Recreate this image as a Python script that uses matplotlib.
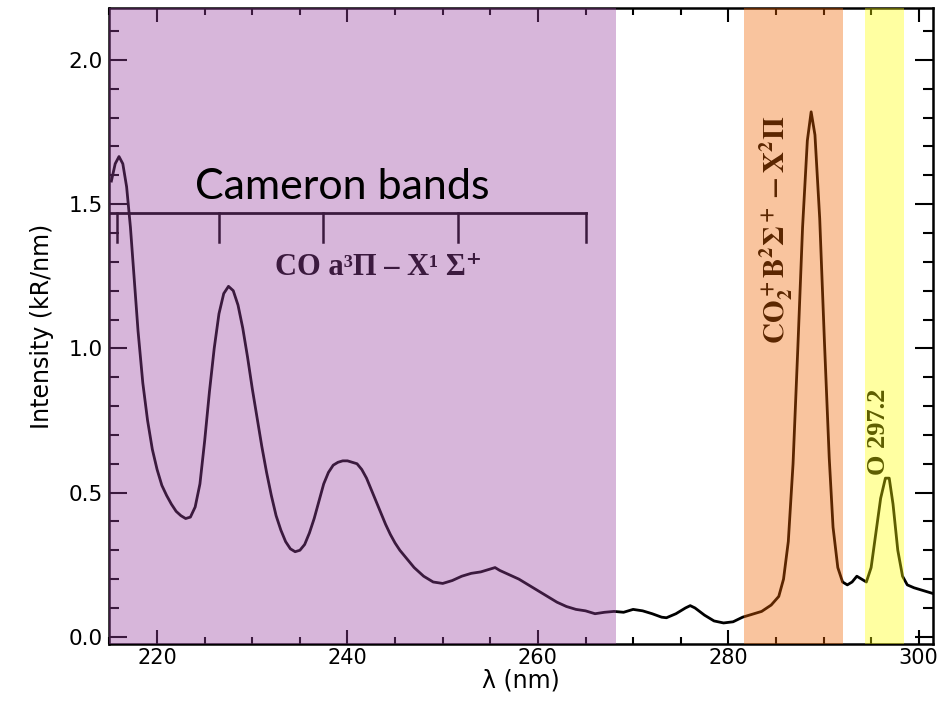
import matplotlib
matplotlib.use("Agg")
import matplotlib.pyplot as plt
from matplotlib.ticker import MultipleLocator

# Spectrum: wavelength (nm) and brightness (kR/nm)
wavelength = [
    215.2, 215.6, 216.0, 216.4, 216.8, 217.2, 217.6, 218.0, 218.5, 219.0,
    219.5, 220.0, 220.5, 221.0, 221.5, 222.0, 222.5, 223.0, 223.5, 224.0,
    224.5, 225.0, 225.5, 226.0, 226.5, 227.0, 227.5, 228.0, 228.5, 229.0,
    229.5, 230.0, 230.5, 231.0, 231.5, 232.0, 232.5, 233.0, 233.5, 234.0,
    234.5, 235.0, 235.5, 236.0, 236.5, 237.0, 237.5, 238.0, 238.5, 239.0,
    239.5, 240.0, 240.5, 241.0, 241.5, 242.0, 242.5, 243.0, 243.5, 244.0,
    244.5, 245.0, 245.5, 246.0, 246.5, 247.0, 247.5, 248.0, 248.5, 249.0,
    250.0, 251.0, 252.0, 253.0, 254.0, 255.0, 255.5, 256.0, 257.0, 258.0,
    259.0, 260.0, 261.0, 262.0, 263.0, 264.0, 265.0, 266.0, 267.0, 268.0,
    269.0, 270.0, 271.0, 272.0, 273.0, 273.5, 274.5, 275.5, 276.0, 276.5,
    277.5, 278.5, 279.5, 280.5, 281.5, 282.5, 283.5, 284.5, 285.3, 285.8,
    286.3, 286.8, 287.3, 287.8, 288.3, 288.7, 289.1, 289.6, 290.1, 290.6,
    291.0, 291.5, 292.0, 292.5, 293.0, 293.5, 294.0, 294.5, 295.0, 295.5,
    296.0, 296.5, 296.9, 297.3, 297.8, 298.3, 298.8, 299.5, 300.5, 301.5,
]
intensity = [
    1.58, 1.64, 1.665, 1.64, 1.56, 1.42, 1.24, 1.06, 0.88, 0.75,
    0.65, 0.58, 0.525, 0.49, 0.46, 0.435, 0.42, 0.41, 0.415, 0.45,
    0.53, 0.68, 0.85, 1.00, 1.12, 1.19, 1.215, 1.20, 1.15, 1.07,
    0.97, 0.86, 0.76, 0.66, 0.57, 0.49, 0.42, 0.37, 0.33, 0.305,
    0.295, 0.30, 0.32, 0.36, 0.41, 0.47, 0.53, 0.57, 0.595, 0.605,
    0.61, 0.61, 0.605, 0.60, 0.58, 0.55, 0.51, 0.47, 0.43, 0.39,
    0.355, 0.325, 0.30, 0.28, 0.26, 0.24, 0.225, 0.21, 0.20, 0.19,
    0.185, 0.195, 0.21, 0.22, 0.225, 0.235, 0.24, 0.23, 0.215, 0.20,
    0.18, 0.16, 0.14, 0.12, 0.105, 0.095, 0.09, 0.08, 0.085, 0.088,
    0.085, 0.095, 0.09, 0.08, 0.068, 0.066, 0.08, 0.10, 0.108, 0.10,
    0.075, 0.055, 0.048, 0.052, 0.068, 0.078, 0.088, 0.11, 0.14, 0.20,
    0.33, 0.60, 1.00, 1.42, 1.72, 1.82, 1.74, 1.45, 1.02, 0.62,
    0.38, 0.24, 0.19, 0.18, 0.19, 0.21, 0.20, 0.19, 0.24, 0.36,
    0.48, 0.55, 0.55, 0.46, 0.30, 0.21, 0.18, 0.17, 0.16, 0.15,
]

# Cameron band system: level of the bracket and band-head positions
cameron_level = 1.468
cameron_span = (215.0, 265.1)
cameron_heads = [215.8, 226.5, 237.4, 251.6, 265.1]
head_drop = 0.1

# Shaded emission regions (nm)
cameron_region = (215.0, 268.2)
co2_region = (281.6, 292.0)
oxygen_region = (294.4, 298.5)

x_major = [220, 240, 260, 280, 300]
y_major = [0.0, 0.5, 1.0, 1.5, 2.0]

fig = plt.figure(figsize=(9.43, 7.01), dpi=100)
ax = fig.add_axes([0.1161, 0.0813, 0.8733, 0.9073])

ax.plot(wavelength, intensity, color="black", lw=2.0, zorder=2)

# bracket marking the Cameron bands
ax.plot(cameron_span, [cameron_level, cameron_level], color="black", lw=2.0, zorder=2)
for h in cameron_heads:
    ax.plot([h, h], [cameron_level, cameron_level - head_drop], color="black", lw=1.8, zorder=2)

serif = ["Liberation Serif", "DejaVu Serif"]
ax.text(243.3, 1.28, "CO a³Π – X¹ Σ⁺", family=serif, fontweight="bold",
        fontsize=22, ha="center", va="center", color="black", zorder=2)
ax.text(285.0, 1.41, r"$\mathbf{CO_2^+ B^2\Sigma^+ - X^2\Pi}$", fontsize=21,
        rotation=90, ha="center", va="center", color="black", zorder=2,
        math_fontfamily="stix")
ax.text(295.8, 0.71, "O 297.2", family=serif, fontweight="bold", fontsize=19,
        rotation=90, ha="center", va="center", color="black", zorder=2)

# translucent tints laid over the spectrum
ax.axvspan(*cameron_region, color=(154/255, 69/255, 162/255), alpha=0.39, lw=0, zorder=5)
ax.axvspan(*co2_region, color=(240/255, 100/255, 0.0), alpha=0.38, lw=0, zorder=5)
ax.axvspan(*oxygen_region, color=(1.0, 1.0, 0.0), alpha=0.37, lw=0, zorder=5)

ax.text(239.5, 1.56, "Cameron bands", family=["Lato", "DejaVu Sans"], fontsize=31,
        ha="center", va="center", color="black", zorder=10)

ax.set_xlim(215.0, 301.5)
ax.set_ylim(-0.025, 2.18)
ax.set_xticks(x_major)
ax.set_yticks(y_major)
ax.set_yticklabels([f"{v:.1f}" for v in y_major])
ax.xaxis.set_minor_locator(MultipleLocator(5))
ax.yaxis.set_minor_locator(MultipleLocator(0.1))

ax.tick_params(axis="both", which="both", direction="in", top=True, right=True,
               colors="black")
ax.tick_params(axis="x", which="major", length=10, width=1.5, pad=3, labelsize=15)
ax.tick_params(axis="x", which="minor", length=5, width=1.5)
ax.tick_params(axis="y", which="major", length=13, width=1.5, pad=5, labelsize=15.5)
ax.tick_params(axis="y", which="minor", length=7.5, width=1.5)
for s in ax.spines.values():
    s.set_linewidth(1.8)

ax.set_xlabel("λ (nm)", fontsize=17, labelpad=0)
ax.set_ylabel("Intensity (kR/nm)", fontsize=17, labelpad=10)

fig.savefig("out.png", dpi=100)
